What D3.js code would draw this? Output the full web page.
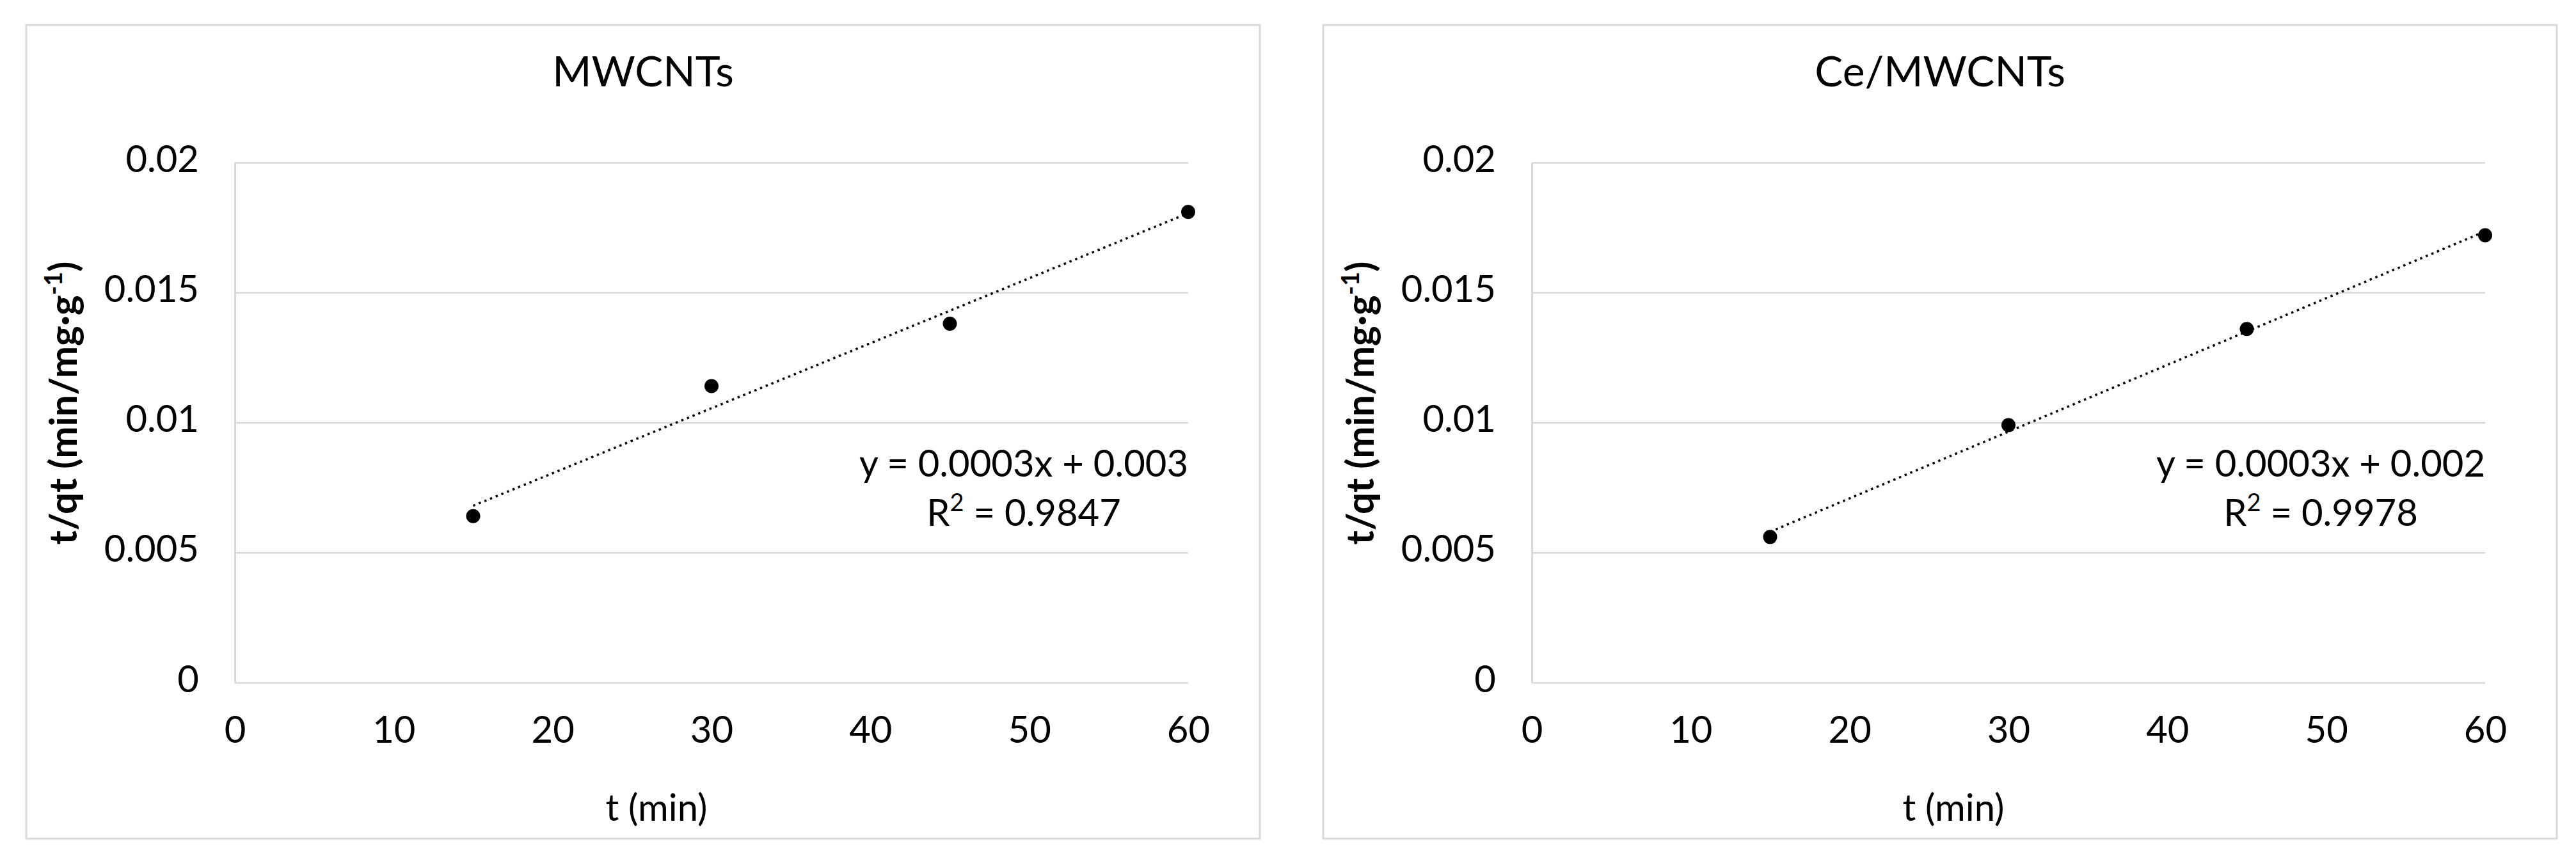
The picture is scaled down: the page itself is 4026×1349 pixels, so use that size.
<!DOCTYPE html>
<html>
<head>
<meta charset="utf-8">
<script src="https://cdn.jsdelivr.net/npm/d3@7"></script>
<style>
  html, body { margin: 0; padding: 0; background: #ffffff; }
  svg { display: block; }
  text { font-family: Lato, "Open Sans", "Liberation Sans", sans-serif; fill: #000; }
</style>
</head>
<body>
<svg id="chart" width="4026" height="1349"></svg>
<script>
// ---- data ----
const times = [15, 30, 45, 60];
const mwcntsValues = [0.0064, 0.0114, 0.0138, 0.0181];
const ceMwcntsValues = [0.0056, 0.0099, 0.0136, 0.0172];
const panelTitles = ["MWCNTs", "Ce/MWCNTs"];
const equationLabels = ["y = 0.0003x + 0.003", "y = 0.0003x + 0.002"];
const r2Labels = ["0.9847", "0.9978"];
const xTickValues = [0, 10, 20, 30, 40, 50, 60];
const yTickValues = [0, 0.005, 0.01, 0.015, 0.02];
const yTickLabels = ["0", "0.005", "0.01", "0.015", "0.02"];
const xAxisTitle = "t (min)";
const yAxisTitleMain = "t/qt (min/mg·g";
const yAxisTitleSup = "-1";

const series = [mwcntsValues, ceMwcntsValues];

// ---- layout ----
const svg = d3.select("#chart");
const panelW = 1928, panelH = 1272;
const panelX = [41, 2068], panelY = 39;
const plot = { left: 326, top: 215, width: 1490, height: 813 };

const x = d3.scaleLinear().domain([0, 60]).range([0, plot.width]);
const y = d3.scaleLinear().domain([0, 0.02]).range([plot.height, 0]);

function linFit(xs, ys) {
  const n = xs.length;
  const mx = d3.mean(xs), my = d3.mean(ys);
  let sxy = 0, sxx = 0;
  for (let i = 0; i < n; i++) { sxy += (xs[i]-mx)*(ys[i]-my); sxx += (xs[i]-mx)*(xs[i]-mx); }
  const b = sxy / sxx;
  return { slope: b, intercept: my - b*mx };
}

series.forEach((vals, i) => {
  const panel = svg.append("g").attr("transform", `translate(${panelX[i]},${panelY})`);

  panel.append("rect")
    .attr("x", 0).attr("y", 0).attr("width", panelW).attr("height", panelH)
    .attr("fill", "#fff").attr("stroke", "#d9d9d9").attr("stroke-width", 3);

  panel.append("text")
    .attr("x", panelW/2).attr("y", 96)
    .attr("text-anchor", "middle")
    .attr("font-size", 66)
    .text(panelTitles[i]);

  const g = panel.append("g").attr("transform", `translate(${plot.left},${plot.top})`);

  // y axis with gridlines
  const yAxis = g.append("g")
    .call(d3.axisLeft(y).tickValues(yTickValues)
      .tickFormat((d, k) => yTickLabels[k])
      .tickSize(-plot.width).tickSizeOuter(0).tickPadding(56));
  yAxis.selectAll(".tick line").attr("stroke", "#d9d9d9").attr("stroke-width", 2.5);
  yAxis.select(".domain").attr("stroke", "#d9d9d9").attr("stroke-width", 3);
  yAxis.selectAll(".tick text")
    .attr("font-size", 58).attr("font-family", "Lato, sans-serif")
    .attr("fill", "#000").attr("dy", 14);

  // x axis labels
  const xAxis = g.append("g").attr("transform", `translate(0,${plot.height})`)
    .call(d3.axisBottom(x).tickValues(xTickValues).tickSize(0).tickSizeOuter(0));
  xAxis.select(".domain").remove();
  xAxis.selectAll(".tick text")
    .attr("font-size", 58).attr("font-family", "Lato, sans-serif")
    .attr("fill", "#000").attr("dy", null).attr("y", 94);

  // axis titles
  g.append("text")
    .attr("x", 985 - plot.left).attr("y", plot.height + 216)
    .attr("text-anchor", "middle").attr("font-size", 58)
    .text(xAxisTitle);

  const yt = panel.append("text")
    .attr("transform", `translate(79,591) rotate(-90)`)
    .attr("text-anchor", "middle").attr("font-size", 60).attr("font-weight", "bold");
  yt.append("tspan").text(yAxisTitleMain);
  yt.append("tspan").attr("baseline-shift", "super").attr("font-size", 38).text(yAxisTitleSup);
  yt.append("tspan").text(")");

  // trendline
  const fit = linFit(times, vals);
  const x0 = d3.min(times), x1 = d3.max(times);
  g.append("line")
    .attr("x1", x(x0)).attr("y1", y(fit.intercept + fit.slope*x0))
    .attr("x2", x(x1)).attr("y2", y(fit.intercept + fit.slope*x1))
    .attr("stroke", "#000").attr("stroke-width", 3.5)
    .attr("stroke-dasharray", "3.5 6");

  // points
  g.selectAll("circle.pt").data(times.map((t, k) => [t, vals[k]]))
    .enter().append("circle").attr("class", "pt")
    .attr("cx", d => x(d[0])).attr("cy", d => y(d[1]))
    .attr("r", 11).attr("fill", "#000");

  // equation labels
  g.append("text")
    .attr("x", 1233).attr("y", 491)
    .attr("text-anchor", "middle").attr("font-size", 58)
    .text(equationLabels[i]);
  const r2 = g.append("text")
    .attr("x", 1233).attr("y", 568)
    .attr("text-anchor", "middle").attr("font-size", 58);
  r2.append("tspan").text("R");
  r2.append("tspan").attr("baseline-shift", "super").attr("font-size", 38).text("2");
  r2.append("tspan").text(" = " + r2Labels[i]);
});
</script>
</body>
</html>
